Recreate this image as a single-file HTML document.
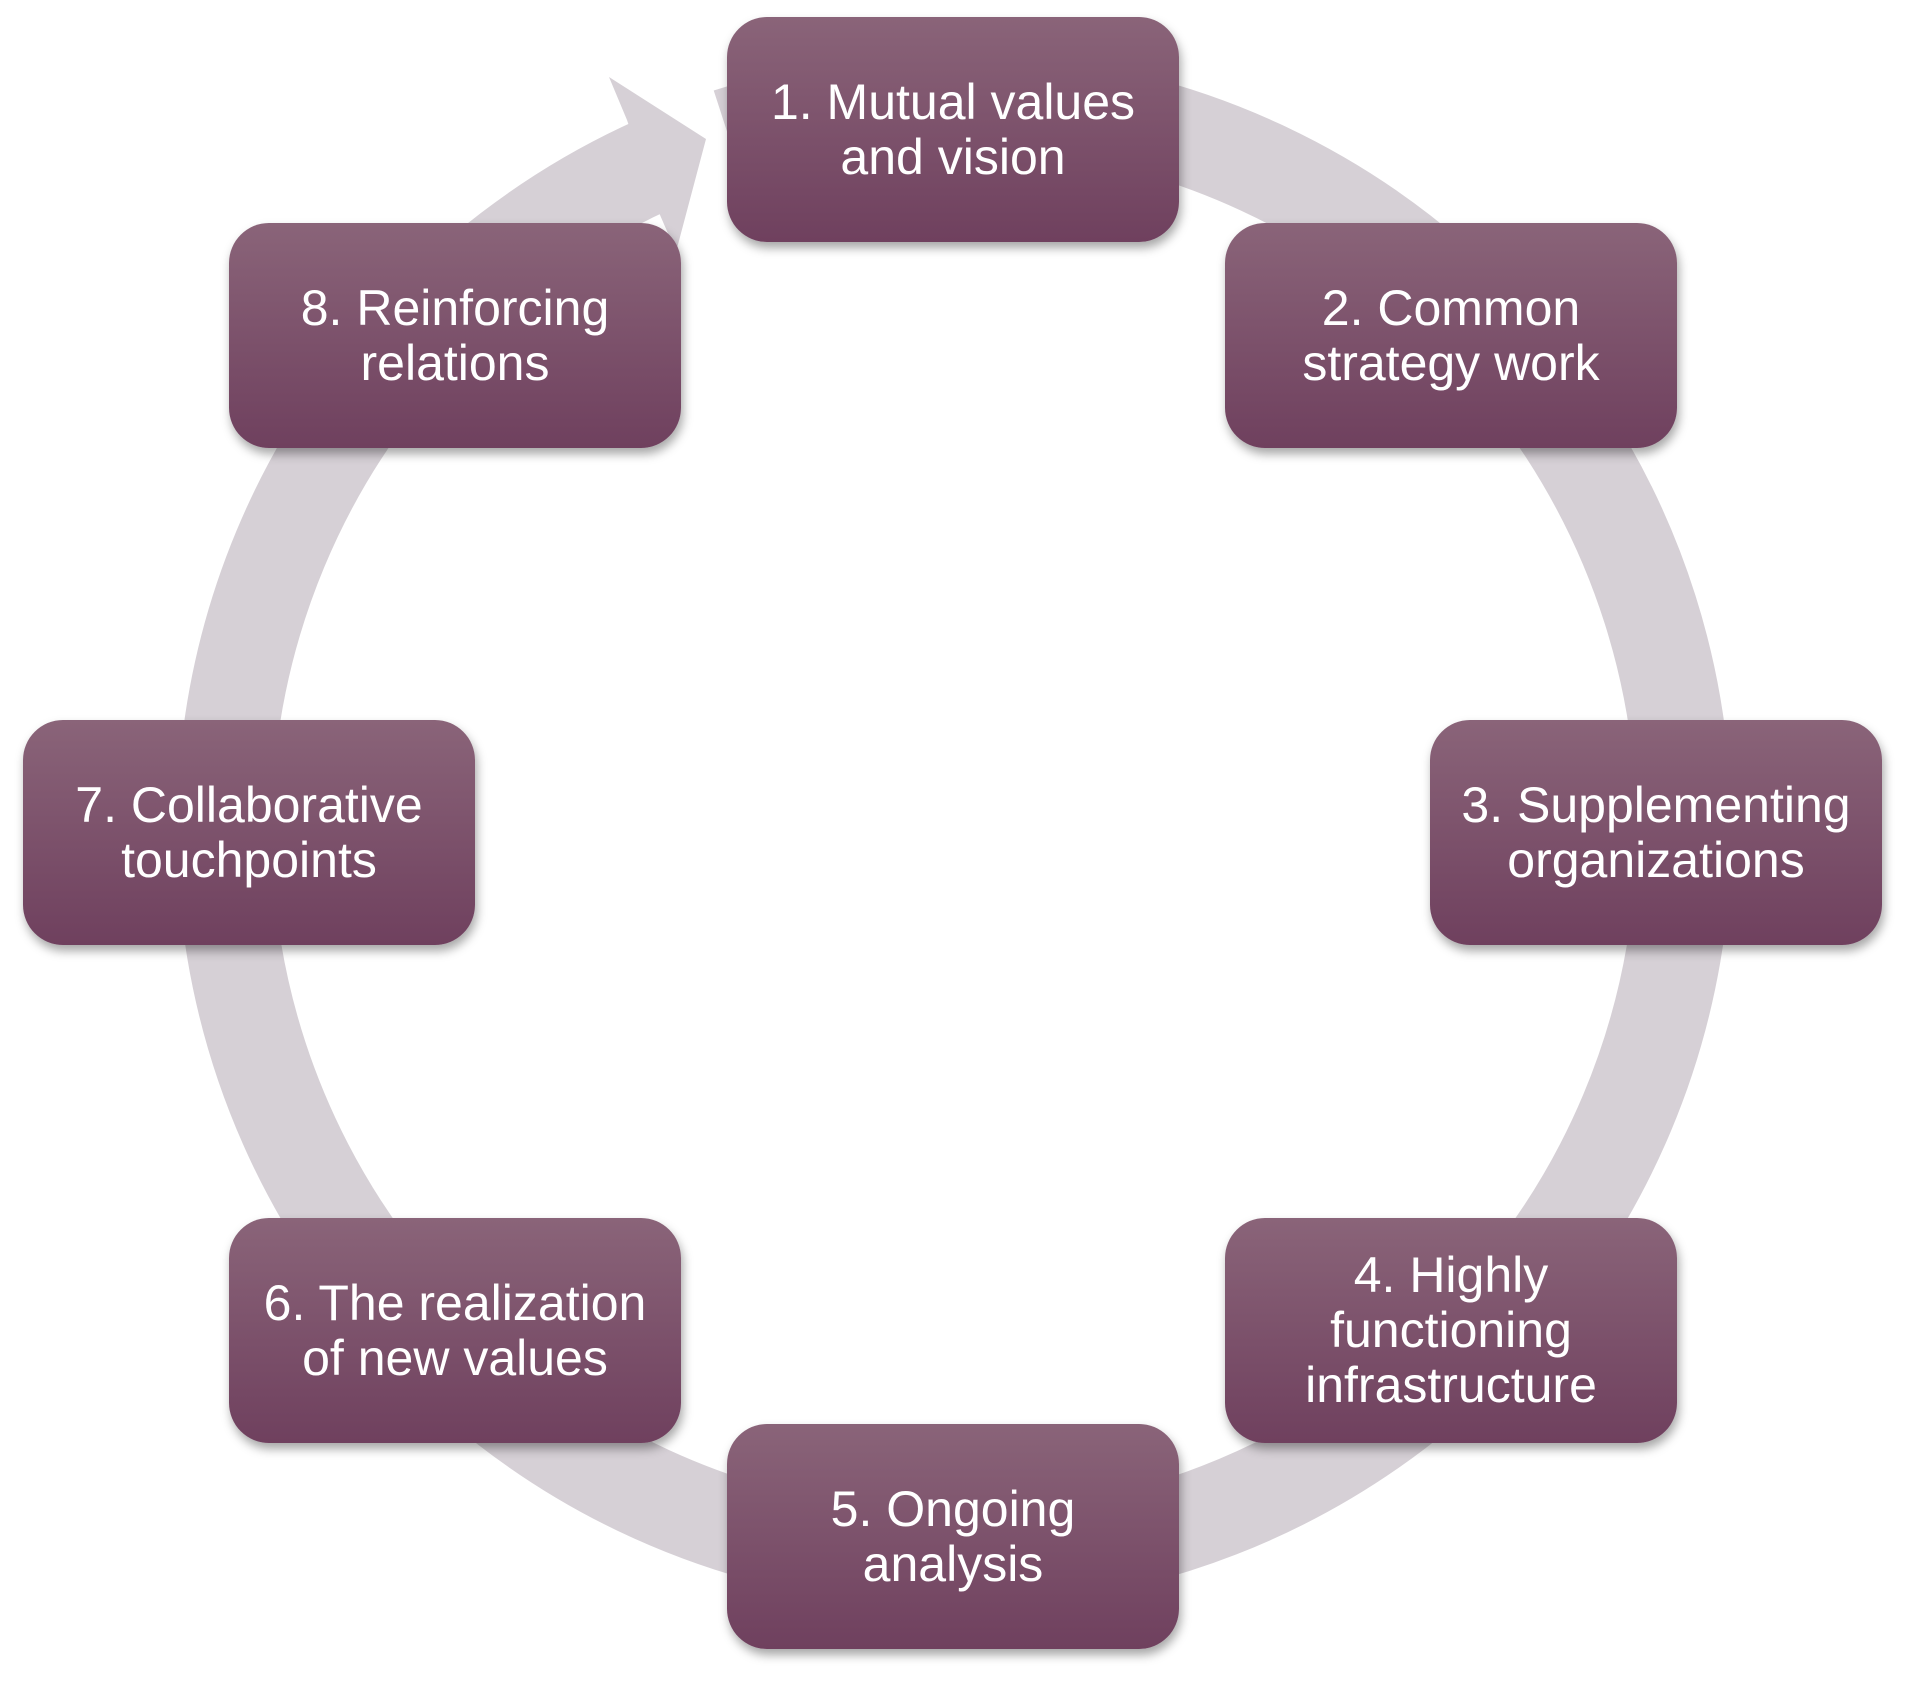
<!DOCTYPE html>
<html><head><style>
body{margin:0;width:1920px;height:1686px;background:#fff;position:relative;overflow:hidden;font-family:"Liberation Sans",sans-serif}
svg{position:absolute;left:0;top:0}
.b{position:absolute;width:452px;height:225px;border-radius:40px;background:linear-gradient(#8a6479,#6f405e);box-shadow:2px 6px 10px rgba(0,0,0,0.35);color:#fff;font-size:50px;line-height:55px;text-align:center;display:flex;align-items:center;justify-content:center;padding-bottom:0px;box-sizing:border-box}
</style></head><body>
<svg width="1920" height="1686">
<path d="M 728.4 135.7 A 730 730 0 1 1 651.3 165.7" fill="none" stroke="#d6d0d6" stroke-width="95"/>
<polygon points="627,120 609,77 706,139 676,252 657,208" fill="#d6d0d6"/>
</svg>
<div class="b" style="left:727px;top:17px">1. Mutual values<br>and vision</div>
<div class="b" style="left:1225px;top:223px">2. Common<br>strategy work</div>
<div class="b" style="left:1430px;top:720px">3. Supplementing<br>organizations</div>
<div class="b" style="left:1225px;top:1218px">4. Highly<br>functioning<br>infrastructure</div>
<div class="b" style="left:727px;top:1424px">5. Ongoing<br>analysis</div>
<div class="b" style="left:229px;top:1218px">6. The realization<br>of new values</div>
<div class="b" style="left:23px;top:720px">7. Collaborative<br>touchpoints</div>
<div class="b" style="left:229px;top:223px">8. Reinforcing<br>relations</div>
</body></html>
